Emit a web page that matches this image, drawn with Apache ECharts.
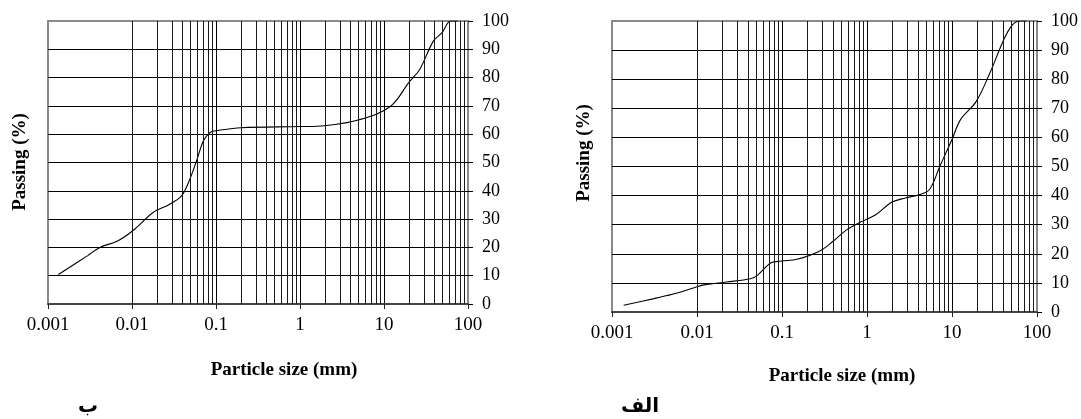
<!DOCTYPE html>
<html>
<head>
<meta charset="utf-8">
<script src="https://cdn.jsdelivr.net/npm/echarts@6/dist/echarts.min.js"></script>
<style>
html,body{margin:0;padding:0;background:#fff;}
#chart{width:1081px;height:419px;}
</style>
</head>
<body>
<div id="chart"></div>
<script>
// ---- Data ----
const xTickLabels = ['0.001', '0.01', '0.1', '1', '10', '100'];
const yTickLabels = ['0', '10', '20', '30', '40', '50', '60', '70', '80', '90', '100'];

// Chart "ب" (left)
const sizesB = [0.00133, 0.00297, 0.00414, 0.00665, 0.0102, 0.018, 0.0275, 0.0384, 0.0464, 0.0589, 0.0711, 0.0859, 0.104, 0.2, 1.0, 1.96, 5.06, 11.9, 19.9, 26.5, 38.7, 49.1, 62.2, 75.4];
const passingB = [10.4, 17.1, 20, 22.2, 25.9, 32.4, 35.1, 38, 42.5, 50.7, 57.8, 60.7, 61.3, 62.3, 62.7, 63, 65.1, 69.8, 78.4, 82.8, 92.9, 95.9, 100, 100];

// Chart "الف" (right)
const sizesA = [0.00137, 0.00312, 0.006, 0.01, 0.0126, 0.0221, 0.0425, 0.0513, 0.0745, 0.0985, 0.15, 0.275, 0.399, 0.58, 0.84, 1.28, 1.95, 2.83, 4.11, 5.44, 7.2, 9.97, 12.6, 19.2, 27.9, 40.5, 51.1, 62.7, 75.5];
const passingA = [2.3, 4.6, 6.6, 8.7, 9.4, 10.3, 11.4, 12.6, 16.9, 17.5, 18.1, 20.9, 24.3, 28.3, 30.9, 33.5, 37.7, 39.2, 40.3, 42.1, 50.1, 59.2, 66.1, 72.3, 82.1, 93.5, 98.6, 100, 100];

const xAxisName = 'Particle size (mm)';
const yAxisName = 'Passing (%)';
const panelLabels = ['ب', 'الف'];

// minor log grid positions (2..9 within each decade)
const decadeStarts = [0.001, 0.01, 0.1, 1, 10];
const minorMultipliers = [2, 3, 4, 5, 6, 7, 8, 9];
const minorLines = [];
decadeStarts.forEach(d => minorMultipliers.forEach(m => minorLines.push({ xAxis: +(d * m).toPrecision(6) })));

const serif = '"Liberation Serif", "Times New Roman", serif';

function pairs(xs, ys) { return xs.map((x, i) => [x, ys[i]]); }

function xAxisCfg(gridIndex) {
  return {
    type: 'log', logBase: 10, gridIndex: gridIndex,
    min: 0.001, max: 100, splitNumber: 5,
    axisLine: { show: true, onZero: false, lineStyle: { color: '#444', width: 2 } },
    axisTick: { show: true, length: 5, lineStyle: { color: '#222', width: 1 } },
    minorTick: { show: false },
    axisLabel: {
      color: '#000', fontFamily: serif, fontSize: 19, margin: 12,
      formatter: function (v) { const k = Math.round(Math.log10(v)) + 3; return xTickLabels[k] !== undefined ? xTickLabels[k] : ''; }
    },
    splitLine: { show: true, showMinLine: false, showMaxLine: false, lineStyle: { color: '#000', width: 1 } }
  };
}
function yAxisCfg(gridIndex) {
  return {
    type: 'value', gridIndex: gridIndex, position: 'right',
    min: 0, max: 100, interval: 10,
    axisLine: { show: false },
    axisTick: { show: true, length: 5, lineStyle: { color: '#000', width: 1 } },
    axisLabel: {
      color: '#000', fontFamily: serif, fontSize: 18, margin: 14,
      formatter: function (v) { return yTickLabels[Math.round(v / 10)]; }
    },
    splitLine: { show: true, showMinLine: false, showMaxLine: false, lineStyle: { color: '#000', width: 1 } }
  };
}
function seriesCfg(idx, xs, ys) {
  return {
    type: 'line', xAxisIndex: idx, yAxisIndex: idx,
    data: pairs(xs, ys), smooth: 0.35, showSymbol: false, symbol: 'none',
    lineStyle: { color: '#000', width: 1.1 }, animation: false, silent: true,
    markLine: {
      silent: true, symbol: ['none', 'none'], label: { show: false }, animation: false,
      lineStyle: { type: 'solid', color: '#1a1a1a', width: 1 },
      data: minorLines
    }
  };
}

const chart = echarts.init(document.getElementById('chart'), null, { renderer: 'canvas' });
chart.setOption({
  backgroundColor: '#fff',
  animation: false,
  grid: [
    { left: 48, right: 613, top: 21, bottom: 115, show: true, borderColor: '#8a8a8a', borderWidth: 2, backgroundColor: 'transparent' },
    { left: 612, right: 42, top: 21, bottom: 107, show: true, borderColor: '#8a8a8a', borderWidth: 2, backgroundColor: 'transparent' }
  ],
  xAxis: [xAxisCfg(0), xAxisCfg(1)],
  yAxis: [yAxisCfg(0), yAxisCfg(1)],
  series: [seriesCfg(0, sizesB, passingB), seriesCfg(1, sizesA, passingA)],
  graphic: [
    { type: 'text', x: 284, y: 370, style: { text: xAxisName, font: 'bold 19px ' + serif, fill: '#000', textAlign: 'center', textVerticalAlign: 'middle' } },
    { type: 'text', x: 842, y: 376, style: { text: xAxisName, font: 'bold 19px ' + serif, fill: '#000', textAlign: 'center', textVerticalAlign: 'middle' } },
    { type: 'text', x: 20, y: 162, rotation: Math.PI / 2, style: { text: yAxisName, font: 'bold 19px ' + serif, fill: '#000', textAlign: 'center', textVerticalAlign: 'middle' } },
    { type: 'text', x: 584, y: 153, rotation: Math.PI / 2, style: { text: yAxisName, font: 'bold 19px ' + serif, fill: '#000', textAlign: 'center', textVerticalAlign: 'middle' } },
    { type: 'text', x: 88, y: 407, style: { text: panelLabels[0], font: 'bold 20px "DejaVu Sans", "Noto Sans", sans-serif', fill: '#000', textAlign: 'center', textVerticalAlign: 'middle' } },
    { type: 'text', x: 640, y: 407, style: { text: panelLabels[1], font: 'bold 20px "DejaVu Sans", "Noto Sans", sans-serif', fill: '#000', textAlign: 'center', textVerticalAlign: 'middle' } }
  ]
});
</script>
</body>
</html>
